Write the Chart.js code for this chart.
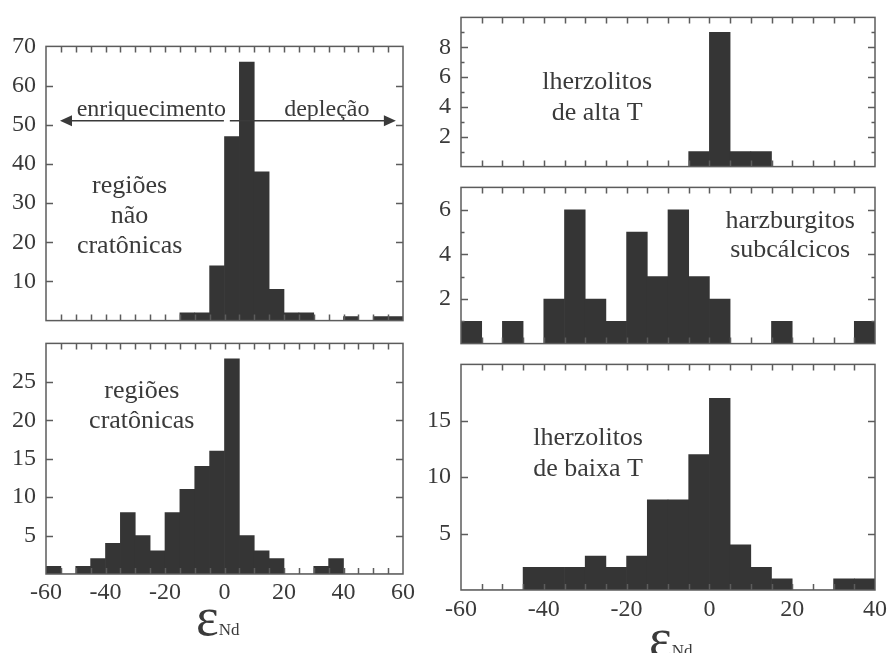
<!DOCTYPE html>
<html>
<head>
<meta charset="utf-8">
<script src="https://cdn.jsdelivr.net/npm/chart.js@4.4.1/dist/chart.umd.min.js"></script>
<style>
  html, body { margin: 0; padding: 0; background: #fff; }
  body { position: relative; width: 893px; height: 653px; overflow: hidden; }
  canvas { position: absolute; }
  .eps { position: absolute; font-family: "Liberation Serif", "Times New Roman", serif; color: #3a3a3a; white-space: nowrap; line-height: 1; }
  .eps .e { font-size: 54px; }
  .eps .nd { font-size: 17px; }
</style>
</head>
<body>
<canvas id="cA"></canvas>
<canvas id="cB"></canvas>
<canvas id="cC"></canvas>
<canvas id="cD"></canvas>
<canvas id="cE"></canvas>
<div class="eps" style="left:196px; top:590px;"><span class="e">ε</span><span class="nd">Nd</span></div>
<div class="eps" style="left:649px; top:611px;"><span class="e">ε</span><span class="nd">Nd</span></div>
<script>
// bin centres (5 unit wide bins)
const binsLeft = [-57.5, -52.5, -47.5, -42.5, -37.5, -32.5, -27.5, -22.5, -17.5, -12.5, -7.5, -2.5,
                  2.5, 7.5, 12.5, 17.5, 22.5, 27.5, 32.5, 37.5, 42.5, 47.5, 52.5, 57.5];
const binsRight = [-57.5, -52.5, -47.5, -42.5, -37.5, -32.5, -27.5, -22.5, -17.5, -12.5, -7.5, -2.5,
                   2.5, 7.5, 12.5, 17.5, 22.5, 27.5, 32.5, 37.5];

// counts
const naoCratonicas = [0, 0, 0, 0, 0, 0, 0, 0, 0, 2, 2, 14, 47, 66, 38, 8, 2, 2, 0, 0, 1, 0, 1, 1];
const cratonicas    = [1, 0, 1, 2, 4, 8, 5, 3, 8, 11, 14, 16, 28, 5, 3, 2, 0, 0, 1, 2, 0, 0, 0, 0];
const altaT         = [0, 0, 0, 0, 0, 0, 0, 0, 0, 0, 0, 1, 9, 1, 1, 0, 0, 0, 0, 0];
const subcalcicos   = [1, 0, 1, 0, 2, 6, 2, 1, 5, 3, 6, 3, 2, 0, 0, 1, 0, 0, 0, 1];
const baixaT        = [0, 0, 0, 2, 2, 2, 3, 2, 3, 8, 8, 12, 17, 4, 2, 1, 0, 0, 1, 1];

// tick labels
const xLabelsLeft = [-60, -40, -20, 0, 20, 40, 60];
const xLabelsRight = [-60, -40, -20, 0, 20, 40];
const yLabelsA = [10, 20, 30, 40, 50, 60, 70];
const yLabelsB = [5, 10, 15, 20, 25];
const yLabelsC = [2, 4, 6, 8];
const yLabelsD = [2, 4, 6];
const yLabelsE = [5, 10, 15];

const ink = '#3a3a3a';
const serif = '"Liberation Serif", "Times New Roman", serif';

// frame + inward tick marks on all four sides
const frameTicks = {
  id: 'frameTicks',
  afterDatasetsDraw(chart, args, opts) {
    const { ctx, chartArea: a, scales: { x, y } } = chart;
    ctx.save();
    ctx.strokeStyle = '#5c5c5c';
    ctx.lineWidth = 1.5;
    ctx.beginPath();
    x.ticks.forEach(t => {
      if (t.value <= x.min || t.value >= x.max) return;
      const px = Math.round(x.getPixelForValue(t.value)) + 0.5;
      ctx.moveTo(px, a.top); ctx.lineTo(px, a.top + 6);
      ctx.moveTo(px, a.bottom); ctx.lineTo(px, a.bottom - 6);
    });
    y.ticks.forEach(t => {
      if (t.value <= y.min || t.value >= y.max) return;
      const py = Math.round(y.getPixelForValue(t.value)) + 0.5;
      const len = opts.minorOdd && t.value % 2 ? 3.5 : 7;
      ctx.moveTo(a.left, py); ctx.lineTo(a.left + len, py);
      ctx.moveTo(a.right, py); ctx.lineTo(a.right - len, py);
    });
    ctx.stroke();
    ctx.strokeRect(a.left, a.top, a.right - a.left, a.bottom - a.top);
    ctx.restore();
  }
};

// text labels and arrows inside the panels
const notes = {
  id: 'notes',
  afterDraw(chart, args, opts) {
    const { ctx, scales: { x, y } } = chart;
    ctx.save();
    ctx.fillStyle = ink;
    ctx.strokeStyle = ink;
    ctx.textAlign = 'center';
    ctx.textBaseline = 'alphabetic';
    (opts.items || []).forEach(n => {
      ctx.font = (n.size || 26) + 'px ' + serif;
      const px = x.getPixelForValue(n.x), py = y.getPixelForValue(n.y);
      n.lines.forEach((s, i) => ctx.fillText(s, px, py + i * n.lh));
    });
    (opts.arrows || []).forEach(ar => {
      const x0 = x.getPixelForValue(ar.from), x1 = x.getPixelForValue(ar.to);
      const py = y.getPixelForValue(ar.y);
      const dir = Math.sign(x1 - x0);
      ctx.lineWidth = 1.5;
      ctx.beginPath();
      ctx.moveTo(x0, py); ctx.lineTo(x1 - dir * 8, py);
      ctx.stroke();
      ctx.beginPath();
      ctx.moveTo(x1, py);
      ctx.lineTo(x1 - dir * 12, py - 5.5);
      ctx.lineTo(x1 - dir * 12, py + 5.5);
      ctx.closePath();
      ctx.fill();
    });
    ctx.restore();
  }
};

function makePanel(id, p) {
  const yW = p.L < 200 ? 46 : 55;
  const padT = 20, padR = 18;
  const xH = p.xLabels ? 45 : 0;
  const padB = p.xLabels ? 2 : 16;
  const el = document.getElementById(id);
  el.width = yW + (p.R - p.L) + padR;
  el.height = padT + (p.B - p.T) + xH + padB;
  el.style.left = (p.L - yW) + 'px';
  el.style.top = (p.T - padT) + 'px';

  new Chart(el, {
    type: 'bar',
    data: {
      datasets: [{
        data: p.bins.map((c, i) => ({ x: c, y: p.counts[i] })),
        backgroundColor: '#353535',
        borderWidth: 0,
        barPercentage: 1,
        categoryPercentage: 1
      }]
    },
    options: {
      responsive: false,
      animation: false,
      layout: { padding: { left: 0, top: padT, right: padR, bottom: padB } },
      scales: {
        x: {
          type: 'linear',
          offset: false,
          min: p.xMin,
          max: p.xMax,
          grid: { display: false, drawTicks: false },
          border: { display: false },
          ticks: {
            display: !!p.xLabels,
            stepSize: 5,
            autoSkip: false,
            maxRotation: 0,
            minRotation: 0,
            padding: p.xPad || 4,
            color: ink,
            font: { family: serif, size: 24 },
            callback: v => (p.xLabels && p.xLabels.includes(v)) ? String(v) : ''
          },
          afterFit: s => { s.height = xH; }
        },
        y: {
          min: 0,
          max: p.yMax,
          grid: { display: false, drawTicks: false },
          border: { display: false },
          ticks: {
            stepSize: p.yStep,
            autoSkip: false,
            padding: 10,
            color: ink,
            font: { family: serif, size: 24 },
            callback: v => p.yLabels.includes(v) ? String(v) : ''
          },
          afterFit: s => { s.width = yW; }
        }
      },
      plugins: {
        legend: { display: false },
        tooltip: { enabled: false },
        frameTicks: { minorOdd: p.minorOdd },
        notes: { items: p.notes || [], arrows: p.arrows || [] }
      }
    },
    plugins: [frameTicks, notes]
  });
}

makePanel('cA', {
  L: 46, T: 42, R: 403, B: 329,
  bins: binsLeft, counts: naoCratonicas, xMin: -60, xMax: 60,
  yMax: 70, yStep: 10, yLabels: yLabelsA,
  notes: [
    { x: -31.9, y: 32.7, lh: 30, lines: ['regiões', 'não', 'cratônicas'] },
    { x: -24.6, y: 52.2, lh: 0, size: 24, lines: ['enriquecimento'] },
    { x: 34.4, y: 52.2, lh: 0, size: 24, lines: ['depleção'] }
  ],
  arrows: [
    { from: -0.2, to: -55.3, y: 51 },
    { from: 1.8, to: 57.6, y: 51 }
  ]
});

makePanel('cB', {
  L: 46, T: 339, R: 403, B: 574,
  bins: binsLeft, counts: cratonicas, xMin: -60, xMax: 60,
  yMax: 30, yStep: 5, yLabels: yLabelsB, xLabels: xLabelsLeft, xPad: 4,
  notes: [
    { x: -27.8, y: 22.9, lh: 30, lines: ['regiões', 'cratônicas'] }
  ]
});

makePanel('cC', {
  L: 461, T: 13, R: 875, B: 175,
  bins: binsRight, counts: altaT, xMin: -60, xMax: 40,
  yMax: 10, yStep: 1, yLabels: yLabelsC, minorOdd: true,
  notes: [
    { x: -27.1, y: 5.2, lh: 31, lines: ['lherzolitos', 'de alta T'] }
  ]
});

makePanel('cD', {
  L: 461, T: 183, R: 875, B: 352,
  bins: binsRight, counts: subcalcicos, xMin: -60, xMax: 40,
  yMax: 7, yStep: 1, yLabels: yLabelsD, minorOdd: true,
  notes: [
    { x: 19.5, y: 5.2, lh: 29, lines: ['harzburgitos', 'subcálcicos'] }
  ]
});

makePanel('cE', {
  L: 461, T: 360, R: 875, B: 590,
  bins: binsRight, counts: baixaT, xMin: -60, xMax: 40,
  yMax: 20, yStep: 5, yLabels: yLabelsE, xLabels: xLabelsRight, xPad: 5,
  notes: [
    { x: -29.3, y: 12.85, lh: 31, lines: ['lherzolitos', 'de baixa T'] }
  ]
});
</script>
</body>
</html>
